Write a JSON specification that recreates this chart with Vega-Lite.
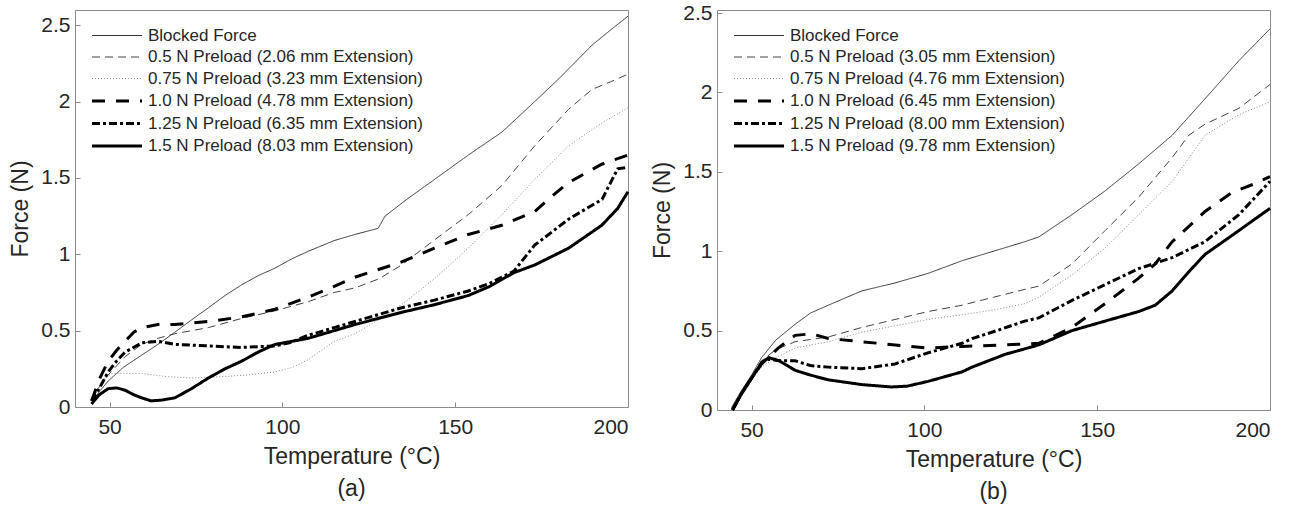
{
  "$schema": "https://vega.github.io/schema/vega-lite/v6.json",
  "padding": {"left": 9, "top": 1, "right": 5, "bottom": 5},
  "spacing": 89,
  "bounds": "flush",
  "config": {
    "font": "Liberation Sans",
    "view": {"stroke": "#8c8c8c", "strokeWidth": 1},
    "axis": {
      "domain": false, "grid": false, "tickColor": "#8c8c8c", "tickSize": -5,
      "labelFont": "Liberation Sans", "labelFontSize": 21, "labelColor": "#262626",
      "titleFont": "Liberation Sans", "titleFontSize": 23, "titleColor": "#262626", "titleFontWeight": "normal"
    },
    "axisX": {"labelPadding": 14, "titlePadding": 8},
    "axisY": {"labelPadding": 10, "titlePadding": 8, "format": "~r"},
    "legend": {
      "orient": "none", "legendX": 30.5, "legendY": 15, "title": null, "labelFont": "Liberation Sans",
      "labelFontSize": 17, "labelColor": "#262626", "labelLimit": 0, "symbolType": "M-2.5,0H2.5",
      "symbolSize": 400, "labelOffset": 19.5, "rowPadding": 2.5, "padding": 0
    },
    "title": {"font": "Liberation Sans", "fontSize": 23, "fontWeight": "normal", "color": "#262626"}
  },
  "datasets": {
    "a": [
      {"s": "Blocked Force", "t": 45, "f": 0.03}, {"s": "Blocked Force", "t": 47, "f": 0.1}, {"s": "Blocked Force", "t": 49.6, "f": 0.17}, {"s": "Blocked Force", "t": 54, "f": 0.26}, {"s": "Blocked Force", "t": 59.3, "f": 0.34}, {"s": "Blocked Force", "t": 64, "f": 0.41}, {"s": "Blocked Force", "t": 68.9, "f": 0.49}, {"s": "Blocked Force", "t": 73.7, "f": 0.57}, {"s": "Blocked Force", "t": 78.6, "f": 0.65}, {"s": "Blocked Force", "t": 83.4, "f": 0.73}, {"s": "Blocked Force", "t": 88.2, "f": 0.8}, {"s": "Blocked Force", "t": 93, "f": 0.86}, {"s": "Blocked Force", "t": 97.9, "f": 0.91}, {"s": "Blocked Force", "t": 102.7, "f": 0.97}, {"s": "Blocked Force", "t": 107.5, "f": 1.02}, {"s": "Blocked Force", "t": 115, "f": 1.09}, {"s": "Blocked Force", "t": 121, "f": 1.13}, {"s": "Blocked Force", "t": 127.7, "f": 1.17}, {"s": "Blocked Force", "t": 129.7, "f": 1.25}, {"s": "Blocked Force", "t": 136, "f": 1.36}, {"s": "Blocked Force", "t": 144, "f": 1.49}, {"s": "Blocked Force", "t": 153.8, "f": 1.65}, {"s": "Blocked Force", "t": 163.5, "f": 1.8}, {"s": "Blocked Force", "t": 173, "f": 2.0}, {"s": "Blocked Force", "t": 180, "f": 2.15}, {"s": "Blocked Force", "t": 189.6, "f": 2.37}, {"s": "Blocked Force", "t": 195, "f": 2.47}, {"s": "Blocked Force", "t": 200, "f": 2.56},
      {"s": "0.5 N Preload (2.06 mm Extension)", "t": 45, "f": 0.05}, {"s": "0.5 N Preload (2.06 mm Extension)", "t": 47, "f": 0.13}, {"s": "0.5 N Preload (2.06 mm Extension)", "t": 49.6, "f": 0.21}, {"s": "0.5 N Preload (2.06 mm Extension)", "t": 54.5, "f": 0.33}, {"s": "0.5 N Preload (2.06 mm Extension)", "t": 59.3, "f": 0.41}, {"s": "0.5 N Preload (2.06 mm Extension)", "t": 64, "f": 0.45}, {"s": "0.5 N Preload (2.06 mm Extension)", "t": 68.9, "f": 0.48}, {"s": "0.5 N Preload (2.06 mm Extension)", "t": 78.6, "f": 0.52}, {"s": "0.5 N Preload (2.06 mm Extension)", "t": 88.2, "f": 0.58}, {"s": "0.5 N Preload (2.06 mm Extension)", "t": 97.9, "f": 0.63}, {"s": "0.5 N Preload (2.06 mm Extension)", "t": 107.5, "f": 0.69}, {"s": "0.5 N Preload (2.06 mm Extension)", "t": 115, "f": 0.75}, {"s": "0.5 N Preload (2.06 mm Extension)", "t": 121, "f": 0.78}, {"s": "0.5 N Preload (2.06 mm Extension)", "t": 128, "f": 0.84}, {"s": "0.5 N Preload (2.06 mm Extension)", "t": 134.5, "f": 0.93}, {"s": "0.5 N Preload (2.06 mm Extension)", "t": 142, "f": 1.06}, {"s": "0.5 N Preload (2.06 mm Extension)", "t": 153.8, "f": 1.26}, {"s": "0.5 N Preload (2.06 mm Extension)", "t": 163.5, "f": 1.45}, {"s": "0.5 N Preload (2.06 mm Extension)", "t": 173, "f": 1.71}, {"s": "0.5 N Preload (2.06 mm Extension)", "t": 182.8, "f": 1.95}, {"s": "0.5 N Preload (2.06 mm Extension)", "t": 189.6, "f": 2.08}, {"s": "0.5 N Preload (2.06 mm Extension)", "t": 195, "f": 2.13}, {"s": "0.5 N Preload (2.06 mm Extension)", "t": 200, "f": 2.18},
      {"s": "0.75 N Preload (3.23 mm Extension)", "t": 45, "f": 0.05}, {"s": "0.75 N Preload (3.23 mm Extension)", "t": 47.7, "f": 0.17}, {"s": "0.75 N Preload (3.23 mm Extension)", "t": 50.6, "f": 0.22}, {"s": "0.75 N Preload (3.23 mm Extension)", "t": 59.3, "f": 0.22}, {"s": "0.75 N Preload (3.23 mm Extension)", "t": 66, "f": 0.2}, {"s": "0.75 N Preload (3.23 mm Extension)", "t": 73.7, "f": 0.19}, {"s": "0.75 N Preload (3.23 mm Extension)", "t": 83.4, "f": 0.2}, {"s": "0.75 N Preload (3.23 mm Extension)", "t": 90, "f": 0.21}, {"s": "0.75 N Preload (3.23 mm Extension)", "t": 97.9, "f": 0.23}, {"s": "0.75 N Preload (3.23 mm Extension)", "t": 103, "f": 0.26}, {"s": "0.75 N Preload (3.23 mm Extension)", "t": 107.5, "f": 0.31}, {"s": "0.75 N Preload (3.23 mm Extension)", "t": 115, "f": 0.43}, {"s": "0.75 N Preload (3.23 mm Extension)", "t": 121, "f": 0.48}, {"s": "0.75 N Preload (3.23 mm Extension)", "t": 127, "f": 0.56}, {"s": "0.75 N Preload (3.23 mm Extension)", "t": 134.5, "f": 0.67}, {"s": "0.75 N Preload (3.23 mm Extension)", "t": 144, "f": 0.84}, {"s": "0.75 N Preload (3.23 mm Extension)", "t": 153.8, "f": 1.04}, {"s": "0.75 N Preload (3.23 mm Extension)", "t": 163.5, "f": 1.26}, {"s": "0.75 N Preload (3.23 mm Extension)", "t": 173, "f": 1.49}, {"s": "0.75 N Preload (3.23 mm Extension)", "t": 182.8, "f": 1.71}, {"s": "0.75 N Preload (3.23 mm Extension)", "t": 192.4, "f": 1.86}, {"s": "0.75 N Preload (3.23 mm Extension)", "t": 200, "f": 1.96},
      {"s": "1.0 N Preload (4.78 mm Extension)", "t": 44.8, "f": 0.04}, {"s": "1.0 N Preload (4.78 mm Extension)", "t": 47, "f": 0.18}, {"s": "1.0 N Preload (4.78 mm Extension)", "t": 49.6, "f": 0.3}, {"s": "1.0 N Preload (4.78 mm Extension)", "t": 52, "f": 0.37}, {"s": "1.0 N Preload (4.78 mm Extension)", "t": 54.5, "f": 0.43}, {"s": "1.0 N Preload (4.78 mm Extension)", "t": 57, "f": 0.49}, {"s": "1.0 N Preload (4.78 mm Extension)", "t": 59.3, "f": 0.52}, {"s": "1.0 N Preload (4.78 mm Extension)", "t": 64, "f": 0.54}, {"s": "1.0 N Preload (4.78 mm Extension)", "t": 68.9, "f": 0.54}, {"s": "1.0 N Preload (4.78 mm Extension)", "t": 78.6, "f": 0.56}, {"s": "1.0 N Preload (4.78 mm Extension)", "t": 88.2, "f": 0.59}, {"s": "1.0 N Preload (4.78 mm Extension)", "t": 97.9, "f": 0.64}, {"s": "1.0 N Preload (4.78 mm Extension)", "t": 107.5, "f": 0.72}, {"s": "1.0 N Preload (4.78 mm Extension)", "t": 115, "f": 0.79}, {"s": "1.0 N Preload (4.78 mm Extension)", "t": 121, "f": 0.85}, {"s": "1.0 N Preload (4.78 mm Extension)", "t": 134.5, "f": 0.95}, {"s": "1.0 N Preload (4.78 mm Extension)", "t": 144, "f": 1.04}, {"s": "1.0 N Preload (4.78 mm Extension)", "t": 153.8, "f": 1.13}, {"s": "1.0 N Preload (4.78 mm Extension)", "t": 163.5, "f": 1.19}, {"s": "1.0 N Preload (4.78 mm Extension)", "t": 173, "f": 1.28}, {"s": "1.0 N Preload (4.78 mm Extension)", "t": 178, "f": 1.38}, {"s": "1.0 N Preload (4.78 mm Extension)", "t": 182.8, "f": 1.47}, {"s": "1.0 N Preload (4.78 mm Extension)", "t": 192.4, "f": 1.59}, {"s": "1.0 N Preload (4.78 mm Extension)", "t": 200, "f": 1.65},
      {"s": "1.25 N Preload (6.35 mm Extension)", "t": 44.8, "f": 0.04}, {"s": "1.25 N Preload (6.35 mm Extension)", "t": 47, "f": 0.12}, {"s": "1.25 N Preload (6.35 mm Extension)", "t": 49.6, "f": 0.23}, {"s": "1.25 N Preload (6.35 mm Extension)", "t": 52, "f": 0.3}, {"s": "1.25 N Preload (6.35 mm Extension)", "t": 54.5, "f": 0.36}, {"s": "1.25 N Preload (6.35 mm Extension)", "t": 59.3, "f": 0.42}, {"s": "1.25 N Preload (6.35 mm Extension)", "t": 64.1, "f": 0.43}, {"s": "1.25 N Preload (6.35 mm Extension)", "t": 68.9, "f": 0.41}, {"s": "1.25 N Preload (6.35 mm Extension)", "t": 78.6, "f": 0.4}, {"s": "1.25 N Preload (6.35 mm Extension)", "t": 88.2, "f": 0.39}, {"s": "1.25 N Preload (6.35 mm Extension)", "t": 97.9, "f": 0.4}, {"s": "1.25 N Preload (6.35 mm Extension)", "t": 102, "f": 0.42}, {"s": "1.25 N Preload (6.35 mm Extension)", "t": 107.5, "f": 0.47}, {"s": "1.25 N Preload (6.35 mm Extension)", "t": 115, "f": 0.52}, {"s": "1.25 N Preload (6.35 mm Extension)", "t": 121, "f": 0.56}, {"s": "1.25 N Preload (6.35 mm Extension)", "t": 134.5, "f": 0.65}, {"s": "1.25 N Preload (6.35 mm Extension)", "t": 144, "f": 0.7}, {"s": "1.25 N Preload (6.35 mm Extension)", "t": 153.8, "f": 0.76}, {"s": "1.25 N Preload (6.35 mm Extension)", "t": 160, "f": 0.81}, {"s": "1.25 N Preload (6.35 mm Extension)", "t": 167, "f": 0.89}, {"s": "1.25 N Preload (6.35 mm Extension)", "t": 173, "f": 1.06}, {"s": "1.25 N Preload (6.35 mm Extension)", "t": 182.8, "f": 1.23}, {"s": "1.25 N Preload (6.35 mm Extension)", "t": 192.5, "f": 1.36}, {"s": "1.25 N Preload (6.35 mm Extension)", "t": 197, "f": 1.56}, {"s": "1.25 N Preload (6.35 mm Extension)", "t": 200, "f": 1.57},
      {"s": "1.5 N Preload (8.03 mm Extension)", "t": 44.8, "f": 0.02}, {"s": "1.5 N Preload (8.03 mm Extension)", "t": 47, "f": 0.08}, {"s": "1.5 N Preload (8.03 mm Extension)", "t": 49.6, "f": 0.12}, {"s": "1.5 N Preload (8.03 mm Extension)", "t": 52, "f": 0.125}, {"s": "1.5 N Preload (8.03 mm Extension)", "t": 54.5, "f": 0.11}, {"s": "1.5 N Preload (8.03 mm Extension)", "t": 57, "f": 0.08}, {"s": "1.5 N Preload (8.03 mm Extension)", "t": 59.3, "f": 0.06}, {"s": "1.5 N Preload (8.03 mm Extension)", "t": 62, "f": 0.04}, {"s": "1.5 N Preload (8.03 mm Extension)", "t": 65, "f": 0.045}, {"s": "1.5 N Preload (8.03 mm Extension)", "t": 68.9, "f": 0.06}, {"s": "1.5 N Preload (8.03 mm Extension)", "t": 73.7, "f": 0.12}, {"s": "1.5 N Preload (8.03 mm Extension)", "t": 78.6, "f": 0.19}, {"s": "1.5 N Preload (8.03 mm Extension)", "t": 83.4, "f": 0.25}, {"s": "1.5 N Preload (8.03 mm Extension)", "t": 88.2, "f": 0.3}, {"s": "1.5 N Preload (8.03 mm Extension)", "t": 93, "f": 0.36}, {"s": "1.5 N Preload (8.03 mm Extension)", "t": 97.9, "f": 0.41}, {"s": "1.5 N Preload (8.03 mm Extension)", "t": 102.7, "f": 0.43}, {"s": "1.5 N Preload (8.03 mm Extension)", "t": 107.5, "f": 0.45}, {"s": "1.5 N Preload (8.03 mm Extension)", "t": 115, "f": 0.5}, {"s": "1.5 N Preload (8.03 mm Extension)", "t": 121, "f": 0.54}, {"s": "1.5 N Preload (8.03 mm Extension)", "t": 134.5, "f": 0.62}, {"s": "1.5 N Preload (8.03 mm Extension)", "t": 144, "f": 0.67}, {"s": "1.5 N Preload (8.03 mm Extension)", "t": 153.8, "f": 0.73}, {"s": "1.5 N Preload (8.03 mm Extension)", "t": 160, "f": 0.79}, {"s": "1.5 N Preload (8.03 mm Extension)", "t": 167, "f": 0.88}, {"s": "1.5 N Preload (8.03 mm Extension)", "t": 173, "f": 0.93}, {"s": "1.5 N Preload (8.03 mm Extension)", "t": 182.8, "f": 1.04}, {"s": "1.5 N Preload (8.03 mm Extension)", "t": 192.4, "f": 1.19}, {"s": "1.5 N Preload (8.03 mm Extension)", "t": 197, "f": 1.3}, {"s": "1.5 N Preload (8.03 mm Extension)", "t": 200, "f": 1.41}
    ],
    "b": [
      {"s": "Blocked Force", "t": 44.2, "f": 0.015}, {"s": "Blocked Force", "t": 47, "f": 0.12}, {"s": "Blocked Force", "t": 50, "f": 0.22}, {"s": "Blocked Force", "t": 52.9, "f": 0.33}, {"s": "Blocked Force", "t": 57, "f": 0.44}, {"s": "Blocked Force", "t": 62.6, "f": 0.54}, {"s": "Blocked Force", "t": 67, "f": 0.61}, {"s": "Blocked Force", "t": 72.2, "f": 0.66}, {"s": "Blocked Force", "t": 81.9, "f": 0.75}, {"s": "Blocked Force", "t": 91.5, "f": 0.8}, {"s": "Blocked Force", "t": 101, "f": 0.86}, {"s": "Blocked Force", "t": 110.9, "f": 0.94}, {"s": "Blocked Force", "t": 120, "f": 1.0}, {"s": "Blocked Force", "t": 129.1, "f": 1.06}, {"s": "Blocked Force", "t": 133.1, "f": 1.09}, {"s": "Blocked Force", "t": 142.7, "f": 1.23}, {"s": "Blocked Force", "t": 152.3, "f": 1.38}, {"s": "Blocked Force", "t": 162, "f": 1.55}, {"s": "Blocked Force", "t": 171.7, "f": 1.73}, {"s": "Blocked Force", "t": 181.2, "f": 1.96}, {"s": "Blocked Force", "t": 191, "f": 2.2}, {"s": "Blocked Force", "t": 200, "f": 2.4},
      {"s": "0.5 N Preload (3.05 mm Extension)", "t": 44.5, "f": 0.0}, {"s": "0.5 N Preload (3.05 mm Extension)", "t": 48, "f": 0.15}, {"s": "0.5 N Preload (3.05 mm Extension)", "t": 52.9, "f": 0.31}, {"s": "0.5 N Preload (3.05 mm Extension)", "t": 57, "f": 0.38}, {"s": "0.5 N Preload (3.05 mm Extension)", "t": 62.6, "f": 0.43}, {"s": "0.5 N Preload (3.05 mm Extension)", "t": 72.2, "f": 0.46}, {"s": "0.5 N Preload (3.05 mm Extension)", "t": 81.9, "f": 0.52}, {"s": "0.5 N Preload (3.05 mm Extension)", "t": 91.5, "f": 0.57}, {"s": "0.5 N Preload (3.05 mm Extension)", "t": 101, "f": 0.62}, {"s": "0.5 N Preload (3.05 mm Extension)", "t": 110.9, "f": 0.66}, {"s": "0.5 N Preload (3.05 mm Extension)", "t": 120, "f": 0.71}, {"s": "0.5 N Preload (3.05 mm Extension)", "t": 129.1, "f": 0.76}, {"s": "0.5 N Preload (3.05 mm Extension)", "t": 133.1, "f": 0.78}, {"s": "0.5 N Preload (3.05 mm Extension)", "t": 142.7, "f": 0.92}, {"s": "0.5 N Preload (3.05 mm Extension)", "t": 152.3, "f": 1.13}, {"s": "0.5 N Preload (3.05 mm Extension)", "t": 162, "f": 1.34}, {"s": "0.5 N Preload (3.05 mm Extension)", "t": 171.7, "f": 1.59}, {"s": "0.5 N Preload (3.05 mm Extension)", "t": 176.5, "f": 1.73}, {"s": "0.5 N Preload (3.05 mm Extension)", "t": 181.2, "f": 1.8}, {"s": "0.5 N Preload (3.05 mm Extension)", "t": 191, "f": 1.9}, {"s": "0.5 N Preload (3.05 mm Extension)", "t": 200, "f": 2.05},
      {"s": "0.75 N Preload (4.76 mm Extension)", "t": 44.5, "f": 0.0}, {"s": "0.75 N Preload (4.76 mm Extension)", "t": 48, "f": 0.15}, {"s": "0.75 N Preload (4.76 mm Extension)", "t": 52.9, "f": 0.27}, {"s": "0.75 N Preload (4.76 mm Extension)", "t": 57, "f": 0.33}, {"s": "0.75 N Preload (4.76 mm Extension)", "t": 62.6, "f": 0.39}, {"s": "0.75 N Preload (4.76 mm Extension)", "t": 72.2, "f": 0.43}, {"s": "0.75 N Preload (4.76 mm Extension)", "t": 81.9, "f": 0.49}, {"s": "0.75 N Preload (4.76 mm Extension)", "t": 91.5, "f": 0.53}, {"s": "0.75 N Preload (4.76 mm Extension)", "t": 101, "f": 0.57}, {"s": "0.75 N Preload (4.76 mm Extension)", "t": 110.9, "f": 0.6}, {"s": "0.75 N Preload (4.76 mm Extension)", "t": 120, "f": 0.63}, {"s": "0.75 N Preload (4.76 mm Extension)", "t": 129.1, "f": 0.67}, {"s": "0.75 N Preload (4.76 mm Extension)", "t": 133.1, "f": 0.71}, {"s": "0.75 N Preload (4.76 mm Extension)", "t": 142.7, "f": 0.85}, {"s": "0.75 N Preload (4.76 mm Extension)", "t": 152.3, "f": 1.02}, {"s": "0.75 N Preload (4.76 mm Extension)", "t": 162, "f": 1.23}, {"s": "0.75 N Preload (4.76 mm Extension)", "t": 171.7, "f": 1.44}, {"s": "0.75 N Preload (4.76 mm Extension)", "t": 181.2, "f": 1.73}, {"s": "0.75 N Preload (4.76 mm Extension)", "t": 191, "f": 1.86}, {"s": "0.75 N Preload (4.76 mm Extension)", "t": 200, "f": 1.94},
      {"s": "1.0 N Preload (6.45 mm Extension)", "t": 44.5, "f": 0.0}, {"s": "1.0 N Preload (6.45 mm Extension)", "t": 47, "f": 0.1}, {"s": "1.0 N Preload (6.45 mm Extension)", "t": 50, "f": 0.2}, {"s": "1.0 N Preload (6.45 mm Extension)", "t": 52.9, "f": 0.29}, {"s": "1.0 N Preload (6.45 mm Extension)", "t": 57.7, "f": 0.39}, {"s": "1.0 N Preload (6.45 mm Extension)", "t": 62.6, "f": 0.47}, {"s": "1.0 N Preload (6.45 mm Extension)", "t": 67.4, "f": 0.48}, {"s": "1.0 N Preload (6.45 mm Extension)", "t": 72.2, "f": 0.45}, {"s": "1.0 N Preload (6.45 mm Extension)", "t": 81.9, "f": 0.43}, {"s": "1.0 N Preload (6.45 mm Extension)", "t": 91.5, "f": 0.41}, {"s": "1.0 N Preload (6.45 mm Extension)", "t": 101, "f": 0.39}, {"s": "1.0 N Preload (6.45 mm Extension)", "t": 110.9, "f": 0.4}, {"s": "1.0 N Preload (6.45 mm Extension)", "t": 123, "f": 0.41}, {"s": "1.0 N Preload (6.45 mm Extension)", "t": 133.1, "f": 0.42}, {"s": "1.0 N Preload (6.45 mm Extension)", "t": 142.7, "f": 0.52}, {"s": "1.0 N Preload (6.45 mm Extension)", "t": 152.3, "f": 0.67}, {"s": "1.0 N Preload (6.45 mm Extension)", "t": 162, "f": 0.83}, {"s": "1.0 N Preload (6.45 mm Extension)", "t": 166.8, "f": 0.92}, {"s": "1.0 N Preload (6.45 mm Extension)", "t": 171.7, "f": 1.06}, {"s": "1.0 N Preload (6.45 mm Extension)", "t": 181.2, "f": 1.25}, {"s": "1.0 N Preload (6.45 mm Extension)", "t": 189, "f": 1.37}, {"s": "1.0 N Preload (6.45 mm Extension)", "t": 195, "f": 1.42}, {"s": "1.0 N Preload (6.45 mm Extension)", "t": 200, "f": 1.47},
      {"s": "1.25 N Preload (8.00 mm Extension)", "t": 44.5, "f": 0.0}, {"s": "1.25 N Preload (8.00 mm Extension)", "t": 47, "f": 0.1}, {"s": "1.25 N Preload (8.00 mm Extension)", "t": 50, "f": 0.2}, {"s": "1.25 N Preload (8.00 mm Extension)", "t": 53, "f": 0.3}, {"s": "1.25 N Preload (8.00 mm Extension)", "t": 55, "f": 0.32}, {"s": "1.25 N Preload (8.00 mm Extension)", "t": 58, "f": 0.31}, {"s": "1.25 N Preload (8.00 mm Extension)", "t": 62.6, "f": 0.31}, {"s": "1.25 N Preload (8.00 mm Extension)", "t": 67, "f": 0.28}, {"s": "1.25 N Preload (8.00 mm Extension)", "t": 72.2, "f": 0.27}, {"s": "1.25 N Preload (8.00 mm Extension)", "t": 81.9, "f": 0.26}, {"s": "1.25 N Preload (8.00 mm Extension)", "t": 91.5, "f": 0.29}, {"s": "1.25 N Preload (8.00 mm Extension)", "t": 101, "f": 0.36}, {"s": "1.25 N Preload (8.00 mm Extension)", "t": 110.9, "f": 0.42}, {"s": "1.25 N Preload (8.00 mm Extension)", "t": 113.8, "f": 0.45}, {"s": "1.25 N Preload (8.00 mm Extension)", "t": 121, "f": 0.5}, {"s": "1.25 N Preload (8.00 mm Extension)", "t": 129, "f": 0.56}, {"s": "1.25 N Preload (8.00 mm Extension)", "t": 133.1, "f": 0.58}, {"s": "1.25 N Preload (8.00 mm Extension)", "t": 142.7, "f": 0.69}, {"s": "1.25 N Preload (8.00 mm Extension)", "t": 152.3, "f": 0.79}, {"s": "1.25 N Preload (8.00 mm Extension)", "t": 162, "f": 0.89}, {"s": "1.25 N Preload (8.00 mm Extension)", "t": 171.7, "f": 0.96}, {"s": "1.25 N Preload (8.00 mm Extension)", "t": 181.2, "f": 1.06}, {"s": "1.25 N Preload (8.00 mm Extension)", "t": 191, "f": 1.23}, {"s": "1.25 N Preload (8.00 mm Extension)", "t": 200, "f": 1.44},
      {"s": "1.5 N Preload (9.78 mm Extension)", "t": 44.5, "f": 0.0}, {"s": "1.5 N Preload (9.78 mm Extension)", "t": 47, "f": 0.1}, {"s": "1.5 N Preload (9.78 mm Extension)", "t": 50, "f": 0.2}, {"s": "1.5 N Preload (9.78 mm Extension)", "t": 53, "f": 0.3}, {"s": "1.5 N Preload (9.78 mm Extension)", "t": 55, "f": 0.33}, {"s": "1.5 N Preload (9.78 mm Extension)", "t": 58, "f": 0.31}, {"s": "1.5 N Preload (9.78 mm Extension)", "t": 62.6, "f": 0.25}, {"s": "1.5 N Preload (9.78 mm Extension)", "t": 67, "f": 0.22}, {"s": "1.5 N Preload (9.78 mm Extension)", "t": 72.2, "f": 0.19}, {"s": "1.5 N Preload (9.78 mm Extension)", "t": 81.9, "f": 0.16}, {"s": "1.5 N Preload (9.78 mm Extension)", "t": 90.5, "f": 0.145}, {"s": "1.5 N Preload (9.78 mm Extension)", "t": 95, "f": 0.15}, {"s": "1.5 N Preload (9.78 mm Extension)", "t": 101, "f": 0.18}, {"s": "1.5 N Preload (9.78 mm Extension)", "t": 110.9, "f": 0.24}, {"s": "1.5 N Preload (9.78 mm Extension)", "t": 113.8, "f": 0.27}, {"s": "1.5 N Preload (9.78 mm Extension)", "t": 123.3, "f": 0.35}, {"s": "1.5 N Preload (9.78 mm Extension)", "t": 133.1, "f": 0.41}, {"s": "1.5 N Preload (9.78 mm Extension)", "t": 142.7, "f": 0.5}, {"s": "1.5 N Preload (9.78 mm Extension)", "t": 152.3, "f": 0.56}, {"s": "1.5 N Preload (9.78 mm Extension)", "t": 162, "f": 0.62}, {"s": "1.5 N Preload (9.78 mm Extension)", "t": 166.8, "f": 0.66}, {"s": "1.5 N Preload (9.78 mm Extension)", "t": 171.7, "f": 0.75}, {"s": "1.5 N Preload (9.78 mm Extension)", "t": 176.5, "f": 0.87}, {"s": "1.5 N Preload (9.78 mm Extension)", "t": 181.2, "f": 0.98}, {"s": "1.5 N Preload (9.78 mm Extension)", "t": 191, "f": 1.13}, {"s": "1.5 N Preload (9.78 mm Extension)", "t": 200, "f": 1.27}
    ]
  },
  "resolve": {
    "scale": {"strokeDash": "independent", "strokeWidth": "independent", "color": "independent"},
    "legend": {"strokeDash": "independent", "strokeWidth": "independent", "color": "independent"}
  },
  "hconcat": [
    {
      "width": 553, "height": 397,
      "data": {"name": "a"},
      "title": {"text": "(a)", "orient": "bottom", "offset": 10},
      "mark": {"type": "line"},
      "encoding": {
        "x": {"field": "t", "type": "quantitative", "scale": {"domain": [40, 200], "nice": false}, "axis": {"values": [50, 100, 150, 200], "title": "Temperature (°C)"}},
        "y": {"field": "f", "type": "quantitative", "scale": {"domain": [0, 2.6], "nice": false}, "axis": {"values": [0, 0.5, 1, 1.5, 2, 2.5], "title": "Force (N)"}},
        "strokeDash": {"field": "s", "type": "ordinal", "scale": {"type": "ordinal", "domain": ["Blocked Force", "0.5 N Preload (2.06 mm Extension)", "0.75 N Preload (3.23 mm Extension)", "1.0 N Preload (4.78 mm Extension)", "1.25 N Preload (6.35 mm Extension)", "1.5 N Preload (8.03 mm Extension)"], "range": [[1, 0], [8, 5], [1, 2], [13, 11], [8, 3, 3, 3], [1, 0]]}},
        "strokeWidth": {"field": "s", "type": "ordinal", "scale": {"type": "ordinal", "domain": ["Blocked Force", "0.5 N Preload (2.06 mm Extension)", "0.75 N Preload (3.23 mm Extension)", "1.0 N Preload (4.78 mm Extension)", "1.25 N Preload (6.35 mm Extension)", "1.5 N Preload (8.03 mm Extension)"], "range": [1, 1, 1, 3, 3, 3]}},
        "color": {"field": "s", "type": "ordinal", "scale": {"type": "ordinal", "domain": ["Blocked Force", "0.5 N Preload (2.06 mm Extension)", "0.75 N Preload (3.23 mm Extension)", "1.0 N Preload (4.78 mm Extension)", "1.25 N Preload (6.35 mm Extension)", "1.5 N Preload (8.03 mm Extension)"], "range": ["#333333", "#444444", "#888888", "#000000", "#000000", "#000000"]}}
      }
    },
    {
      "width": 553, "height": 400,
      "data": {"name": "b"},
      "title": {"text": "(b)", "orient": "bottom", "offset": 10},
      "mark": {"type": "line"},
      "encoding": {
        "x": {"field": "t", "type": "quantitative", "scale": {"domain": [40, 200], "nice": false}, "axis": {"values": [50, 100, 150, 200], "title": "Temperature (°C)"}},
        "y": {"field": "f", "type": "quantitative", "scale": {"domain": [0, 2.519], "nice": false}, "axis": {"values": [0, 0.5, 1, 1.5, 2, 2.5], "title": "Force (N)"}},
        "strokeDash": {"field": "s", "type": "ordinal", "scale": {"type": "ordinal", "domain": ["Blocked Force", "0.5 N Preload (3.05 mm Extension)", "0.75 N Preload (4.76 mm Extension)", "1.0 N Preload (6.45 mm Extension)", "1.25 N Preload (8.00 mm Extension)", "1.5 N Preload (9.78 mm Extension)"], "range": [[1, 0], [8, 5], [1, 2], [13, 11], [8, 3, 3, 3], [1, 0]]}},
        "strokeWidth": {"field": "s", "type": "ordinal", "scale": {"type": "ordinal", "domain": ["Blocked Force", "0.5 N Preload (3.05 mm Extension)", "0.75 N Preload (4.76 mm Extension)", "1.0 N Preload (6.45 mm Extension)", "1.25 N Preload (8.00 mm Extension)", "1.5 N Preload (9.78 mm Extension)"], "range": [1, 1, 1, 3, 3, 3]}},
        "color": {"field": "s", "type": "ordinal", "scale": {"type": "ordinal", "domain": ["Blocked Force", "0.5 N Preload (3.05 mm Extension)", "0.75 N Preload (4.76 mm Extension)", "1.0 N Preload (6.45 mm Extension)", "1.25 N Preload (8.00 mm Extension)", "1.5 N Preload (9.78 mm Extension)"], "range": ["#333333", "#444444", "#888888", "#000000", "#000000", "#000000"]}}
      }
    }
  ]
}
